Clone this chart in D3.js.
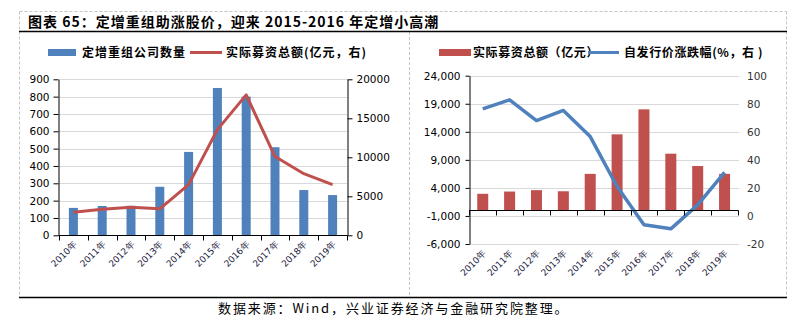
<!DOCTYPE html>
<html>
<head>
<meta charset="utf-8">
<script src="https://cdn.jsdelivr.net/npm/d3@7/dist/d3.min.js"></script>
<style>
  html, body { margin: 0; padding: 0; background: #fff; }
  svg { display: block; }
  .cjk { font-family: "Noto Sans CJK SC", sans-serif; }
  .num { font-family: "DejaVu Sans", sans-serif; }
</style>
</head>
<body>
<svg id="chart" width="808" height="325"></svg>
<script>
// Years shared by both panels
const categories = ["2010年","2011年","2012年","2013年","2014年","2015年","2016年","2017年","2018年","2019年"];
// Number of companies doing placement-backed restructurings
const companyCount = [158, 169, 170, 280, 481, 850, 800, 508, 261, 232];
// Actual funds raised (100 million yuan)
const raisedAmount = [2950, 3350, 3600, 3400, 6500, 13550, 18000, 10100, 7900, 6500];
// Price change relative to issue price (%)
const priceChange = [76.4, 82.8, 68, 75.2, 56.6, 21, -6.3, -9.2, 7.9, 31];

const leftTicksL = [0, 100, 200, 300, 400, 500, 600, 700, 800, 900];
const leftTicksR = [0, 5000, 10000, 15000, 20000];
const rightTicksL = [-6000, -1000, 4000, 9000, 14000, 19000, 24000];
const rightTicksR = [-20, 0, 20, 40, 60, 80, 100];

const title = "图表 65：定增重组助涨股价，迎来 2015-2016 年定增小高潮";
const source = "数据来源：Wind，兴业证券经济与金融研究院整理。";

const BLUE = "#4F81BD", RED = "#C0504D", GRID = "#d9d9d9";
const svg = d3.select("#chart");

// ---- Frame ----
const frame = svg.append("g");
const dash = { stroke: "#c4c4c4", "stroke-width": 1, "stroke-dasharray": "3,2" };
function dline(x1, y1, x2, y2) {
  const l = frame.append("line").attr("x1", x1).attr("y1", y1).attr("x2", x2).attr("y2", y2);
  Object.entries(dash).forEach(([k, v]) => l.attr(k, v));
}
dline(19.5, 11.5, 786.5, 11.5);
dline(19.5, 11.5, 19.5, 297);
dline(786.5, 11.5, 786.5, 297);
dline(409.5, 32, 409.5, 297);
frame.append("line").attr("x1", 19).attr("x2", 787).attr("y1", 31.5).attr("y2", 31.5)
  .attr("stroke", "#000").attr("stroke-width", 1.5);
frame.append("line").attr("x1", 19).attr("x2", 787).attr("y1", 297.5).attr("y2", 297.5)
  .attr("stroke", "#000").attr("stroke-width", 1.5);

svg.append("text").attr("class", "cjk").attr("x", 28).attr("y", 26.5)
  .attr("font-size", 14).attr("font-weight", 700).attr("letter-spacing", 1)
  .attr("fill", "#000").text(title);
svg.append("text").attr("class", "cjk").attr("x", 218).attr("y", 313)
  .attr("font-size", 13).attr("letter-spacing", 1.9)
  .attr("fill", "#000").text(source);

// Shared helpers
function hgrid(g, scale, ticks, x1, x2) {
  g.selectAll(null).data(ticks).join("line")
    .attr("x1", x1).attr("x2", x2)
    .attr("y1", d => Math.round(scale(d)) + 0.5).attr("y2", d => Math.round(scale(d)) + 0.5)
    .attr("stroke", GRID).attr("stroke-width", 1);
}
function styleAxis(g, fontSize) {
  g.selectAll("path").attr("stroke", "#000");
  g.selectAll("line").attr("stroke", "#000");
  g.selectAll("text").attr("font-family", "DejaVu Sans, sans-serif")
    .attr("font-size", fontSize).attr("fill", "#000");
}
function xLabels(g, band, y, dx) {
  g.selectAll(null).data(categories).join("text")
    .attr("font-family", "DejaVu Sans, sans-serif").attr("font-size", 9)
    .attr("fill", "#1a1a40").attr("text-anchor", "end")
    .attr("transform", d => `translate(${band(d) + band.bandwidth() / 2 + dx},${y}) rotate(-45)`)
    .text(d => d);
}

// ---- Left panel: company count bars + raised amount line ----
{
  const g = svg.append("g");
  const x = d3.scaleBand().domain(categories).range([59, 347]).padding(0);
  const y = d3.scaleLinear().domain([0, 900]).range([235.3, 79.3]);
  const y2 = d3.scaleLinear().domain([0, 20000]).range([235.3, 79.3]);

  hgrid(g, y, leftTicksL.slice(1), 59, 347);

  const bw = 9;
  g.selectAll(null).data(companyCount).join("rect")
    .attr("x", (d, i) => x(categories[i]) + x.bandwidth() / 2 - bw / 2)
    .attr("width", bw)
    .attr("y", d => y(d)).attr("height", d => y(0) - y(d))
    .attr("fill", BLUE);

  const line = d3.line().x((d, i) => x(categories[i]) + x.bandwidth() / 2).y(d => y2(d));
  g.append("path").datum(raisedAmount).attr("d", line)
    .attr("fill", "none").attr("stroke", RED).attr("stroke-width", 3)
    .attr("stroke-linejoin", "round");

  const ax = g.append("g").attr("transform", "translate(58.5,0)")
    .call(d3.axisLeft(y).tickValues(leftTicksL).tickSize(5).tickPadding(4).tickSizeOuter(0)
      .tickFormat(d3.format("d")));
  styleAxis(ax, 10.5);
  const ax2 = g.append("g").attr("transform", "translate(347.5,0)")
    .call(d3.axisRight(y2).tickValues(leftTicksR).tickSize(5).tickPadding(4).tickSizeOuter(0)
      .tickFormat(d3.format("d")));
  styleAxis(ax2, 10.5);

  const xb = g.append("g").attr("transform", "translate(0,235.5)");
  xb.append("line").attr("x1", 58.5).attr("x2", 347.5).attr("stroke", "#000");
  xb.selectAll(null).data(d3.range(categories.length + 1)).join("line")
    .attr("x1", i => Math.round(59 + i * x.step()) + 0.5).attr("x2", i => Math.round(59 + i * x.step()) + 0.5)
    .attr("y1", 0).attr("y2", 5).attr("stroke", "#000");
  xLabels(g, x, 245, 4);

  // legend
  const lg = g.append("g");
  lg.append("rect").attr("x", 48).attr("y", 49).attr("width", 28).attr("height", 7).attr("fill", BLUE);
  lg.append("text").attr("class", "cjk").attr("x", 82).attr("y", 57).attr("font-size", 12)
    .attr("font-weight", 700).attr("letter-spacing", 1).text("定增重组公司数量");
  lg.append("line").attr("x1", 190).attr("x2", 222).attr("y1", 52.5).attr("y2", 52.5)
    .attr("stroke", RED).attr("stroke-width", 3);
  lg.append("text").attr("class", "cjk").attr("x", 226).attr("y", 57).attr("font-size", 12)
    .attr("font-weight", 700).attr("letter-spacing", 1).text("实际募资总额(亿元，右)");
}

// ---- Right panel: raised amount bars + price change line ----
{
  const g = svg.append("g");
  const x = d3.scaleBand().domain(categories).range([469.3, 738]).padding(0);
  const y = d3.scaleLinear().domain([-6000, 24000]).range([244, 75.7]);
  const y2 = d3.scaleLinear().domain([-20, 100]).range([244, 75.7]);

  hgrid(g, y, rightTicksL, 469, 739);

  const bw = 11;
  g.selectAll(null).data(raisedAmount).join("rect")
    .attr("x", (d, i) => x(categories[i]) + x.bandwidth() / 2 - bw / 2)
    .attr("width", bw)
    .attr("y", d => y(d)).attr("height", d => y(0) - y(d))
    .attr("fill", RED);

  const line = d3.line().x((d, i) => x(categories[i]) + x.bandwidth() / 2).y(d => y2(d));
  g.append("path").datum(priceChange).attr("d", line)
    .attr("fill", "none").attr("stroke", BLUE).attr("stroke-width", 3.5)
    .attr("stroke-linejoin", "round");

  const ax = g.append("g").attr("transform", "translate(469.5,0)")
    .call(d3.axisLeft(y).tickValues(rightTicksL).tickSize(4).tickPadding(5).tickSizeOuter(0)
      .tickFormat(d3.format(",")));
  styleAxis(ax, 10.5);
  ax.selectAll("text").text(d => d3.format(",")(d).replace("−", "-"));

  const ax2 = g.append("g").attr("transform", "translate(739,0)")
    .call(d3.axisRight(y2).tickValues(rightTicksR).tickSize(0).tickPadding(8));
  ax2.select(".domain").remove();
  styleAxis(ax2, 10.5);
  ax2.selectAll("text").attr("fill", "#333").text(d => String(d));

  const y0 = Math.round(y(0)) + 0.5;
  const xb = g.append("g").attr("transform", `translate(0,${y0})`);
  xb.append("line").attr("x1", 469).attr("x2", 738.5).attr("stroke", "#000");
  xb.selectAll(null).data(d3.range(categories.length + 1)).join("line")
    .attr("x1", i => Math.round(469.3 + i * x.step()) + 0.5).attr("x2", i => Math.round(469.3 + i * x.step()) + 0.5)
    .attr("y1", 0).attr("y2", 5).attr("stroke", "#000");
  xLabels(g, x, 254, 4);

  const lg = g.append("g");
  lg.append("rect").attr("x", 439).attr("y", 49).attr("width", 32).attr("height", 7).attr("fill", RED);
  lg.append("text").attr("class", "cjk").attr("x", 473).attr("y", 57).attr("font-size", 12)
    .attr("font-weight", 700).attr("letter-spacing", 0.6).text("实际募资总额（亿元）");
  lg.append("line").attr("x1", 588).attr("x2", 619).attr("y1", 52.5).attr("y2", 52.5)
    .attr("stroke", BLUE).attr("stroke-width", 3);
  lg.append("text").attr("class", "cjk").attr("x", 624).attr("y", 57).attr("font-size", 12)
    .attr("font-weight", 700).attr("letter-spacing", 0.6).text("自发行价涨跌幅(%，右 )");
}
</script>
</body>
</html>
